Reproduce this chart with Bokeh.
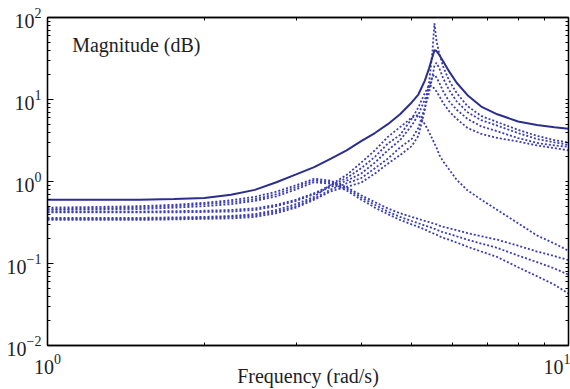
from bokeh.plotting import figure
from bokeh.models import Range1d, LogAxis, FixedTicker, Label
from bokeh.embed import file_html
from bokeh.resources import INLINE

# frequency grid (rad/s)
freq = [1, 1.25, 1.5, 1.75, 2, 2.25, 2.5, 2.75, 3, 3.25, 3.5, 3.75, 4, 4.25, 4.5, 4.75,
        5, 5.15, 5.3, 5.4, 5.48, 5.53, 5.58, 5.65, 5.75, 5.9, 6.1, 6.4, 6.8, 7.3, 8, 8.7, 9.4, 10]

# solid curve
mag_solid = [0.60, 0.60, 0.60, 0.61, 0.63, 0.69, 0.79, 0.98, 1.22, 1.5, 1.9, 2.4, 3.1, 3.9, 5.0, 6.6,
             9.2, 11.5, 17, 24, 33, 40, 39, 35, 29, 22, 16, 11.3, 8.2, 6.6, 5.4, 4.9, 4.6, 4.4]

# resonant dotted curves
mag_r1 = [0.34, 0.34, 0.34, 0.345, 0.35, 0.355, 0.37, 0.41, 0.48, 0.60, 0.76, 0.86, 0.97, 1.25, 1.65, 2.1,
          2.7, 3.6, 7.5, 16, 38, 85, 52, 36, 25, 17, 12, 8.3, 6.3, 5.3, 4.27, 3.6, 3.2, 2.98]
mag_r2 = [0.35, 0.35, 0.35, 0.355, 0.36, 0.37, 0.385, 0.43, 0.50, 0.62, 0.80, 0.95, 1.10, 1.45, 1.9, 2.6,
          3.3, 4.5, 8, 12, 19, 26, 28, 24, 18, 13, 9.5, 7.0, 5.6, 4.8, 3.9, 3.3, 3.0, 2.8]
mag_r3 = [0.42, 0.42, 0.42, 0.42, 0.425, 0.43, 0.45, 0.50, 0.58, 0.70, 0.86, 1.02, 1.25, 1.7, 2.4, 3.2,
          4.8, 6.5, 10, 14, 19, 20, 18.5, 16, 12.5, 9.5, 7.5, 5.8, 4.7, 4.1, 3.39, 2.95, 2.75, 2.65]
mag_r4 = [0.43, 0.43, 0.43, 0.435, 0.44, 0.45, 0.47, 0.52, 0.60, 0.72, 0.90, 1.10, 1.45, 2.0, 2.9, 3.7,
          5.8, 8, 12, 15, 14.5, 13.5, 12.5, 11, 9, 7.2, 5.8, 4.5, 3.8, 3.4, 3.08, 2.75, 2.55, 2.4]
mag_a = [0.36, 0.36, 0.36, 0.365, 0.37, 0.38, 0.40, 0.45, 0.53, 0.65, 0.92, 1.2, 1.7, 2.4, 3.5, 4.6,
         6.0, 6.5, 5.0, 4.0, 3.3, 2.9, 2.6, 2.1, 1.75, 1.4, 1.05, 0.78, 0.60, 0.45, 0.31, 0.22, 0.175, 0.143]

# low-frequency peaking dotted curves
mag_b = [0.48, 0.49, 0.50, 0.52, 0.55, 0.59, 0.65, 0.75, 0.90, 1.08, 1.02, 0.85, 0.68, 0.56, 0.47, 0.41,
         0.37, 0.35, 0.33, 0.32, 0.31, 0.305, 0.30, 0.29, 0.28, 0.27, 0.255, 0.235, 0.215, 0.195, 0.165, 0.14, 0.123, 0.11]
mag_c = [0.46, 0.47, 0.48, 0.50, 0.53, 0.56, 0.61, 0.70, 0.85, 1.03, 0.98, 0.82, 0.64, 0.52, 0.43, 0.37,
         0.33, 0.31, 0.29, 0.28, 0.27, 0.265, 0.26, 0.25, 0.24, 0.23, 0.215, 0.195, 0.175, 0.155, 0.125, 0.104, 0.087, 0.073]
mag_d = [0.45, 0.455, 0.46, 0.48, 0.50, 0.53, 0.58, 0.66, 0.80, 0.98, 0.94, 0.78, 0.60, 0.48, 0.40, 0.34,
         0.30, 0.28, 0.26, 0.245, 0.235, 0.23, 0.225, 0.215, 0.205, 0.195, 0.18, 0.16, 0.14, 0.12, 0.09, 0.07, 0.055, 0.043]

dotted_series = [mag_r1, mag_r2, mag_r3, mag_r4, mag_a, mag_b, mag_c, mag_d]

x_major = [1, 10]
x_minor = [2, 3, 4, 5, 6, 7, 8, 9]
y_major = [0.01, 0.1, 1, 10, 100]
y_minor = [m * d for d in [0.01, 0.1, 1, 10] for m in range(2, 10)]

FONT = "Liberation Serif"
SOLID_COL = "#2b2e8f"
DOT_COL = "#3a3db3"
TXT_COL = "#1e1e1e"

p = figure(width=570, height=389, x_axis_type="log", y_axis_type="log",
           x_range=Range1d(1, 10), y_range=Range1d(0.01, 100),
           output_backend="svg", toolbar_location=None,
           min_border_left=47, min_border_right=2, min_border_top=17, min_border_bottom=43)

p.grid.visible = False
p.outline_line_color = "black"
p.outline_line_width = 1.3
p.background_fill_color = "white"
p.border_fill_color = "white"

for ys in dotted_series:
    p.line(freq, ys, line_color=DOT_COL, line_width=1.8, line_dash="2 2")
p.line(freq, mag_solid, line_color=SOLID_COL, line_width=2.0)

xb = p.below[0]
yl = p.left[0]
xb.ticker = FixedTicker(ticks=x_major, minor_ticks=x_minor)
yl.ticker = FixedTicker(ticks=y_major, minor_ticks=y_minor)

xt = LogAxis(ticker=FixedTicker(ticks=[], minor_ticks=x_minor))
yr = LogAxis(ticker=FixedTicker(ticks=[], minor_ticks=y_major[1:-1] + y_minor))
p.add_layout(xt, "above")
p.add_layout(yr, "right")

for ax in [xb, yl, xt, yr]:
    ax.axis_line_color = "black"
    ax.axis_line_width = 1.3
    ax.major_tick_in = 6
    ax.major_tick_out = 0
    ax.minor_tick_in = 3
    ax.minor_tick_out = 0
    ax.major_tick_line_color = "black"
    ax.minor_tick_line_color = "black"
    ax.major_label_text_font = FONT
    ax.major_label_text_font_size = "20px"
    ax.major_label_text_color = TXT_COL
    ax.axis_label_text_font = FONT
    ax.axis_label_text_font_style = "normal"
    ax.axis_label_text_font_size = "20px"
    ax.axis_label_text_color = TXT_COL

xb.axis_label = "Frequency (rad/s)"
xb.axis_label_standoff = -12
xb.major_label_standoff = 8
yl.major_label_standoff = 6

p.add_layout(Label(x=1.115, y=45.8, text="Magnitude (dB)", text_font=FONT,
                   text_font_size="20px", text_color=TXT_COL, text_baseline="middle"))

open("out.html", "w").write(file_html(p, INLINE))
